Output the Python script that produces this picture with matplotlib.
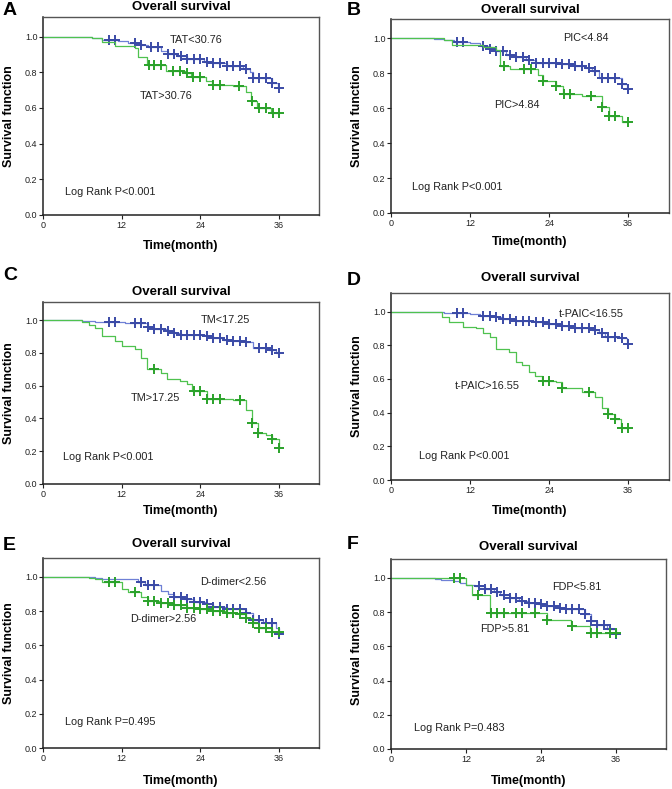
import matplotlib
matplotlib.use("Agg")
import matplotlib.pyplot as plt
import numpy as np

plt.rcParams['font.family'] = ['Liberation Sans', 'DejaVu Sans']

# ---- data: step times (events), survival after each step, censor times ----
# panel A: TAT
A_lo_t = [7.5, 9, 11.5, 13, 15, 16, 18, 19, 20.5, 22, 24.5, 26, 28, 30.5, 31.5, 32, 35, 35.9]
A_lo_s = [0.99, 0.98, 0.975, 0.965, 0.955, 0.94, 0.92, 0.905, 0.89, 0.875, 0.86, 0.85, 0.835, 0.82, 0.80, 0.77, 0.74, 0.71]
A_lo_c = [10, 11, 14, 15, 16.5, 17.5, 19, 20, 21, 22, 23, 24, 25, 26, 27, 28, 29, 30, 31, 32, 33, 34, 35, 36]
A_hi_t = [7.5, 9, 11, 14, 14.5, 15.8, 18.8, 21.6, 22.6, 24.9, 25.8, 29, 30.9, 31.8, 32.7, 34.8]
A_hi_s = [0.99, 0.97, 0.95, 0.935, 0.885, 0.84, 0.81, 0.795, 0.775, 0.75, 0.73, 0.725, 0.69, 0.64, 0.60, 0.57]
A_hi_c = [16.2, 17, 18, 19.8, 20.9, 22, 22.9, 23.9, 25.9, 27, 29.9, 31.9, 32.9, 34, 35.1, 36]

# panel B: PIC
B_lo_t = [6.5, 8, 9.5, 12, 13.5, 15, 16, 17.5, 19, 20.5, 22, 26, 28, 29.5, 30.5, 31.5, 35, 35.9]
B_lo_s = [0.995, 0.99, 0.98, 0.97, 0.955, 0.94, 0.925, 0.905, 0.89, 0.875, 0.86, 0.85, 0.84, 0.83, 0.815, 0.77, 0.74, 0.71]
B_lo_c = [10, 11, 14, 15, 16, 17, 18, 19, 20, 21, 22, 23, 24, 25, 26, 27, 28, 29, 30, 31, 32, 33, 34, 35, 36]
B_hi_t = [8, 9.2, 14, 16, 16.5, 18, 22.3, 23, 25, 26.1, 29, 32, 33.1, 35]
B_hi_s = [0.99, 0.96, 0.95, 0.93, 0.84, 0.825, 0.79, 0.755, 0.725, 0.68, 0.67, 0.605, 0.555, 0.52]
B_hi_c = [17.1, 20.2, 21.2, 23, 25, 26.2, 27.1, 30.3, 32, 33.1, 34, 36]

# panel C: TM
C_lo_t = [6, 8, 12.5, 16, 17, 19, 20, 21, 25, 26, 27.5, 29, 31, 32, 34.5, 35.5]
C_lo_s = [0.995, 0.99, 0.98, 0.955, 0.945, 0.935, 0.92, 0.91, 0.9, 0.89, 0.88, 0.87, 0.865, 0.83, 0.815, 0.80]
C_lo_c = [10, 11, 14, 15, 16, 17, 18, 19, 20, 21, 22, 23, 24, 25, 26, 27, 28, 29, 30, 31, 33, 34, 35, 36]
C_hi_t = [5.9, 7, 8, 9, 11, 12, 14, 15, 15.8, 18, 18.9, 20.9, 21.9, 22.8, 25, 29, 31, 31.9, 32.8, 34, 35, 36]
C_hi_s = [0.99, 0.97, 0.95, 0.905, 0.87, 0.84, 0.825, 0.77, 0.70, 0.68, 0.64, 0.63, 0.61, 0.565, 0.52, 0.515, 0.45, 0.375, 0.31, 0.30, 0.275, 0.22]
C_hi_c = [16.9, 23, 24, 25, 26, 27, 30, 31.9, 32.8, 35, 36]

# panel D: t-PAIC
D_lo_t = [6, 8, 12, 13.5, 16, 17, 19, 22, 24, 26, 28, 30.5, 31.5, 32.5, 35, 35.9]
D_lo_s = [0.995, 0.99, 0.985, 0.975, 0.965, 0.955, 0.945, 0.935, 0.925, 0.915, 0.905, 0.89, 0.87, 0.85, 0.845, 0.81]
D_lo_c = [10, 11, 14, 15, 16, 17, 18, 19, 20, 21, 22, 23, 24, 25, 26, 27, 28, 29, 30, 31, 32, 33, 34, 35, 36]
D_hi_t = [6, 7.8, 8.8, 11, 12.9, 13.9, 15.1, 15.9, 17.9, 18.9, 19.9, 21, 21.9, 22.9, 25, 26, 29, 31, 32, 33, 34, 34.9]
D_hi_s = [0.995, 0.97, 0.94, 0.91, 0.90, 0.87, 0.85, 0.78, 0.76, 0.70, 0.68, 0.64, 0.62, 0.59, 0.58, 0.545, 0.52, 0.49, 0.43, 0.39, 0.36, 0.31]
D_hi_c = [23, 24, 26, 30, 33, 34, 35, 36]

# panel E: D-dimer
E_lo_t = [8, 9, 14.5, 15.5, 18, 19, 20, 21.5, 23, 25, 26, 28, 31, 32, 33.5, 35.5, 36]
E_lo_s = [0.995, 0.985, 0.97, 0.95, 0.92, 0.90, 0.885, 0.87, 0.855, 0.84, 0.825, 0.81, 0.79, 0.75, 0.73, 0.70, 0.665]
E_lo_c = [15, 16, 17, 20, 21, 22, 23, 24, 25, 26, 27, 28, 29, 30, 31, 32, 33, 34, 35, 36]
E_hi_t = [7, 8, 9, 12, 13, 15, 16, 18, 20, 22, 24, 26, 28, 30, 31, 32, 33, 35]
E_hi_s = [0.995, 0.99, 0.97, 0.93, 0.91, 0.88, 0.86, 0.845, 0.835, 0.82, 0.81, 0.80, 0.79, 0.78, 0.76, 0.73, 0.70, 0.68]
E_hi_c = [10, 11, 14, 16, 17, 18, 19, 20, 21, 22, 23, 24, 25, 26, 27, 28, 29, 30, 31, 32, 33, 34, 35, 36]

# panel F: FDP
F_lo_t = [7, 8, 10, 11, 12, 13.5, 15, 16.5, 17.5, 19, 20.5, 22, 23.5, 25, 26.5, 28, 31, 32, 33, 34.5, 36]
F_lo_s = [0.995, 0.99, 0.98, 0.97, 0.96, 0.95, 0.935, 0.92, 0.90, 0.88, 0.865, 0.855, 0.845, 0.835, 0.825, 0.815, 0.79, 0.75, 0.725, 0.70, 0.67]
F_lo_c = [14, 15, 16, 17, 18, 19, 20, 21, 22, 23, 24, 25, 26, 27, 28, 29, 30, 31, 32, 33, 34, 35, 36]
F_hi_t = [12, 13, 15.8, 24.9, 28.8, 31.8]
F_hi_s = [0.96, 0.90, 0.795, 0.755, 0.72, 0.68]
F_hi_c = [10, 11, 13.9, 16, 17, 18, 20, 21, 23, 24.9, 29, 32, 33, 35, 36]

panels = [
    ("A", A_lo_t, A_lo_s, A_lo_c, A_hi_t, A_hi_s, A_hi_c, "TAT<30.76", "TAT>30.76", "Log Rank P<0.001"),
    ("B", B_lo_t, B_lo_s, B_lo_c, B_hi_t, B_hi_s, B_hi_c, "PIC<4.84", "PIC>4.84", "Log Rank P<0.001"),
    ("C", C_lo_t, C_lo_s, C_lo_c, C_hi_t, C_hi_s, C_hi_c, "TM<17.25", "TM>17.25", "Log Rank P<0.001"),
    ("D", D_lo_t, D_lo_s, D_lo_c, D_hi_t, D_hi_s, D_hi_c, "t-PAIC<16.55", "t-PAIC>16.55", "Log Rank P<0.001"),
    ("E", E_lo_t, E_lo_s, E_lo_c, E_hi_t, E_hi_s, E_hi_c, "D-dimer<2.56", "D-dimer>2.56", "Log Rank P=0.495"),
    ("F", F_lo_t, F_lo_s, F_lo_c, F_hi_t, F_hi_s, F_hi_c, "FDP<5.81", "FDP>5.81", "Log Rank P=0.483"),
]

# layout in pixels: left, top, right, bottom of each box
W, H = 672, 789
boxes = {"A": (43, 17, 319, 215), "B": (391, 19, 669, 213),
         "C": (43, 302, 319, 484), "D": (391, 293, 669, 480),
         "E": (43, 558, 319, 748), "F": (391, 559, 666, 749)}
xmax = {"A": 42.1, "B": 42.2, "C": 42.1, "D": 42.2, "E": 42.1, "F": 44.0}
# label text positions (x, y) in data coords
lo_pos = {"A": (19.3, 0.98), "B": (26.2, 1.0), "C": (24.1, 1.0), "D": (25.4, 0.985), "E": (24.0, 0.967), "F": (25.8, 0.945)}
hi_pos = {"A": (14.7, 0.665), "B": (15.6, 0.62), "C": (13.3, 0.525), "D": (9.7, 0.56), "E": (13.3, 0.755), "F": (14.2, 0.70)}
lr_pos = {"A": (3.35, 0.127), "B": (3.2, 0.15), "C": (3.0, 0.167), "D": (4.3, 0.14), "E": (3.4, 0.154), "F": (3.6, 0.123)}
title_y = {"A": 7, "B": 10, "C": 292, "D": 278, "E": 544, "F": 547}
xlab_y = {"A": 246, "B": 242, "C": 511, "D": 511, "E": 781, "F": 781}
letter_xy = {"A": (3, 2), "B": (347, 2), "C": (3, 267), "D": (347, 272), "E": (3, 537), "F": (347, 536)}

blue_line, blue_mark = "#6f80d6", "#3a4aa6"
green_line, green_mark = "#4fc24f", "#2aa22a"

fig = plt.figure(figsize=(W / 100, H / 100), dpi=100)


def km_curve(ax, t, s, c, lc, mc):
    end = max(c[-1], t[-1])
    xs = np.array([0] + list(t) + [end])
    ys = np.array([1.0] + list(s) + [s[-1]])
    ax.plot(xs, ys, drawstyle="steps-post", color=lc, lw=0.9)
    idx = np.searchsorted(xs, c, side="right") - 1
    ax.plot(c, ys[idx], ls="none", marker="+", ms=6.5, mew=1.4, color=mc)


for key, lt, ls_, lc_, ht, hs, hc, lo_lab, hi_lab, lr in panels:
    l, t, r, b = boxes[key]
    ax = fig.add_axes([l / W, 1 - b / H, (r - l) / W, (b - t) / H])
    km_curve(ax, lt, ls_, lc_, blue_line, blue_mark)
    km_curve(ax, ht, hs, hc, green_line, green_mark)
    ax.set_xlim(0, xmax[key])
    ax.set_ylim(0, 1.11)
    ax.set_xticks([0, 12, 24, 36])
    ax.set_yticks([0.0, 0.2, 0.4, 0.6, 0.8, 1.0])
    ax.set_yticklabels(["0.0", "0.2", "0.4", "0.6", "0.8", "1.0"])
    ax.tick_params(labelsize=6.5, length=3, width=0.8, pad=1, colors="#222222")
    for sp in ["left", "bottom"]:
        ax.spines[sp].set_linewidth(1.1)
        ax.spines[sp].set_color("#222222")
    for sp in ["top", "right"]:
        ax.spines[sp].set_linewidth(1.0)
        ax.spines[sp].set_color("#555555")
    ax.text(*lo_pos[key], lo_lab, fontsize=7.8, va="center", ha="left", color="#222222")
    ax.text(*hi_pos[key], hi_lab, fontsize=7.8, va="center", ha="left", color="#222222")
    ax.text(*lr_pos[key], lr, fontsize=7.8, va="center", ha="left", color="#222222")

    cx = (l + r) / 2 / W
    fig.text(cx, 1 - title_y[key] / H, "Overall survival", ha="center", va="center",
             fontsize=9.5, fontweight="bold")
    fig.text(cx, 1 - xlab_y[key] / H, "Time(month)", ha="center", va="center",
             fontsize=9, fontweight="bold")
    fig.text((l - 34) / W, 1 - (t + b) / 2 / H, "Survival function", ha="center", va="center",
             rotation=90, fontsize=9, fontweight="bold")
    lx, ly = letter_xy[key]
    fig.text(lx / W, 1 - ly / H, key, ha="left", va="top", fontsize=14, fontweight="bold")

fig.savefig("out.png", dpi=100)
